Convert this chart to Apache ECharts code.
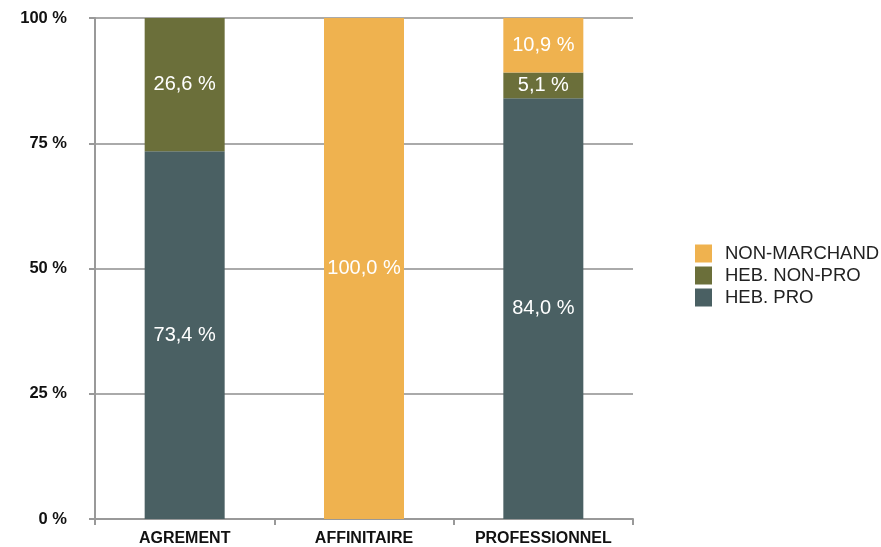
<!DOCTYPE html>
<html>
<head>
<meta charset="utf-8">
<style>
  html, body { margin: 0; padding: 0; background: #fff; }
  #chart { width: 881px; height: 547px; }
</style>
<script src="https://cdn.jsdelivr.net/npm/echarts@6/dist/echarts.min.js"></script>
</head>
<body>
<div id="chart"></div>
<script>
// categories and series (percent)
const categories = ['AGREMENT', 'AFFINITAIRE', 'PROFESSIONNEL'];
const hebPro = [73.4, 0, 84.0];
const hebNonPro = [26.6, 0, 5.1];
const nonMarchand = [0, 100.0, 10.9];
const yTicks = [0, 25, 50, 75, 100];

const colors = {
  pro: '#4a6063',
  nonPro: '#6b6f3a',
  nonMarchand: '#efb24f',
};

const fmt = v => v.toFixed(1).replace('.', ',') + ' %';

function barSeries(name, data, color) {
  return {
    name: name,
    type: 'bar',
    stack: 'total',
    barWidth: 80,
    data: data,
    itemStyle: { color: color },
    label: {
      show: true,
      position: 'inside',
      color: '#fff',
      fontSize: 20,
      fontFamily: 'Liberation Sans, Arial, sans-serif',
      formatter: p => (p.value > 0 ? fmt(p.value) : ''),
    },
  };
}

const chart = echarts.init(document.getElementById('chart'));
chart.setOption({
  animation: false,
  textStyle: { fontFamily: 'Liberation Sans, Arial, sans-serif' },
  grid: { left: 95, right: 248, top: 18, bottom: 28, containLabel: false },
  legend: {
    orient: 'vertical',
    left: 690,
    top: 239,
    itemWidth: 17,
    itemHeight: 18,
    itemGap: 3,
    icon: 'rect',
    data: ['NON-MARCHAND', 'HEB. NON-PRO', 'HEB. PRO'],
    textStyle: { fontSize: 18.5, lineHeight: 18, color: '#222', padding: [0, 0, 0, 8] },
  },
  xAxis: {
    type: 'category',
    data: categories,
    axisLine: { lineStyle: { color: '#999', width: 2 } },
    axisTick: { show: true, length: 6, lineStyle: { color: '#999', width: 2 } },
    axisLabel: { color: '#111', fontSize: 16, fontWeight: 'bold', margin: 12 },
  },
  yAxis: {
    type: 'value',
    min: 0,
    max: 100,
    interval: 25,
    axisLine: { show: true, lineStyle: { color: '#999', width: 2 } },
    axisTick: { show: true, length: 6, lineStyle: { color: '#999', width: 2 } },
    splitLine: { lineStyle: { color: '#aaa', width: 2 } },
    axisLabel: {
      color: '#111',
      fontSize: 16.5,
      fontWeight: 'bold',
      margin: 28,
      formatter: v => (yTicks.includes(v) ? v + ' %' : ''),
    },
  },
  series: [
    barSeries('HEB. PRO', hebPro, colors.pro),
    barSeries('HEB. NON-PRO', hebNonPro, colors.nonPro),
    barSeries('NON-MARCHAND', nonMarchand, colors.nonMarchand),
  ],
});
</script>
</body>
</html>
